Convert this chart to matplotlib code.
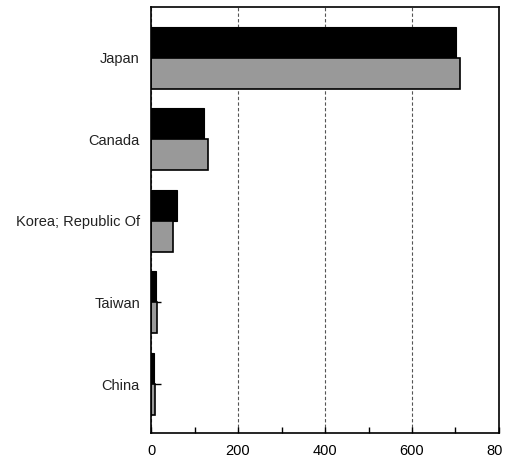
import matplotlib.pyplot as plt
from matplotlib.ticker import MultipleLocator
from matplotlib.transforms import Bbox, TransformedBbox

plt.rcParams['font.family'] = ['Liberation Sans', 'DejaVu Sans']

countries = ['Japan', 'Canada', 'Korea; Republic Of', 'Taiwan', 'China']
series_a = [701, 122, 59, 11, 7]
series_b = [710, 132, 51, 13, 9]

fig = plt.figure(figsize=(5.15, 4.62), dpi=100)
ax = fig.add_axes([151/515, 29/462, 348/515, 426/462])

h = 0.38
y = list(range(len(countries)))
ax.barh([i - h/2 for i in y], series_a, height=h, color='black', edgecolor='black', linewidth=0.8, zorder=3)
ax.barh([i + h/2 for i in y], series_b, height=h, color='#999999', edgecolor='black', linewidth=1.2, zorder=3)

ax.set_xlim(0, 800)
ax.set_ylim(4.6, -0.62)
ax.set_yticks(y)
ax.set_yticklabels(countries)
ax.xaxis.set_major_locator(MultipleLocator(200))
ax.xaxis.set_minor_locator(MultipleLocator(100))
ax.tick_params(axis='x', which='major', direction='in', length=4, labelsize=10.5, pad=8, width=1)
ax.tick_params(axis='x', which='minor', direction='in', length=4, width=1)
ax.tick_params(axis='y', direction='in', length=7, labelsize=10.5, pad=8, width=1, labelcolor='#222222')
ax.grid(axis='x', color='#555555', linestyle=(0, (3, 2)), linewidth=0.8, zorder=1)
for s in ax.spines.values():
    s.set_linewidth(1.2)
    s.set_zorder(4)

fig.canvas.draw()
# last label "800" is cut off at the image edge in the original
clip = TransformedBbox(Bbox([[0, 0], [503/515, 1]]), fig.transFigure)
for lbl in ax.get_xticklabels():
    lbl.set_clip_box(clip)
    lbl.set_clip_on(True)

fig.savefig('out.png', dpi=100)
